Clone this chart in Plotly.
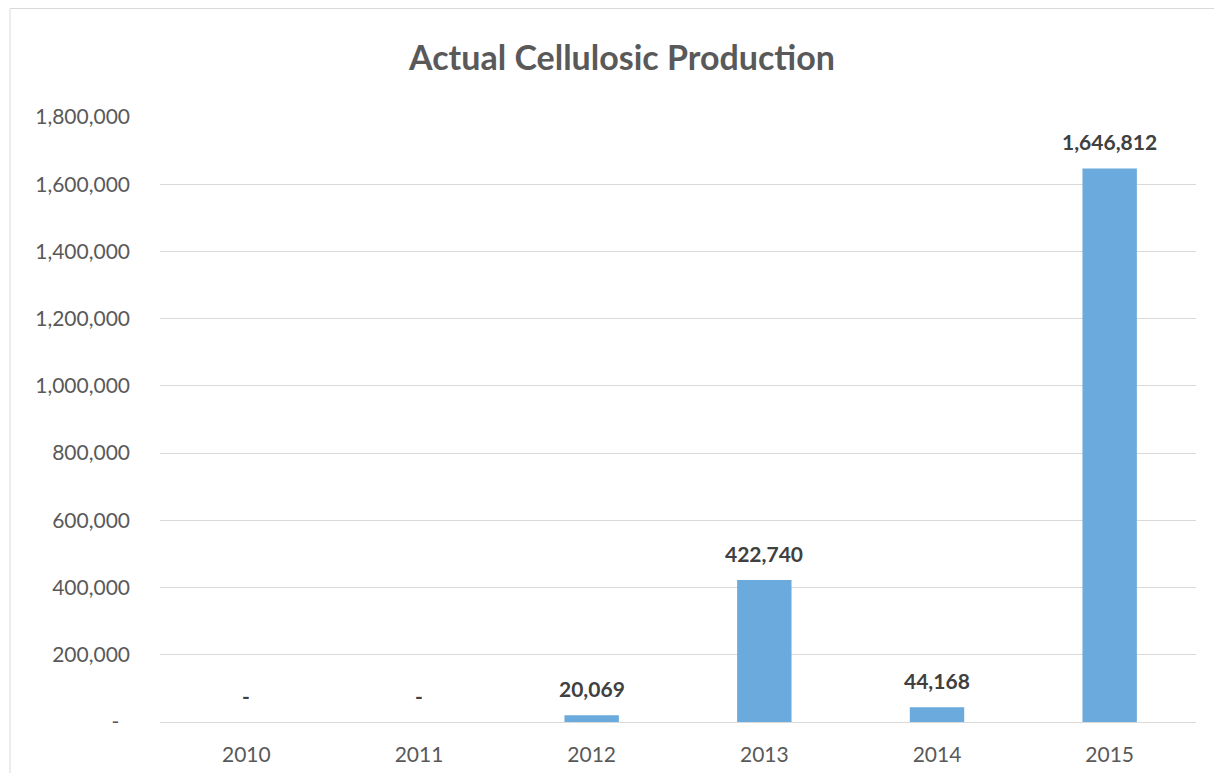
import plotly.graph_objects as go

years = ["2010", "2011", "2012", "2013", "2014", "2015"]
production = [0, 0, 20069, 422740, 44168, 1646812]
y_tickvals = [0, 200000, 400000, 600000, 800000, 1000000, 1200000, 1400000, 1600000, 1800000]
y_ticktext = ["-\u00a0\u00a0", "200,000", "400,000", "600,000", "800,000", "1,000,000",
              "1,200,000", "1,400,000", "1,600,000", "1,800,000"]

def fmt(v):
    return "-" if v == 0 else f"{v:,}"

# page body has an 8px margin; compensate so the drawing lands where the reference is
OFF = 8
W, H = 1222 - 2 * OFF, 781 - 2 * OFF
L, T = 160 - OFF, 117 - OFF
R = W - (1196 - OFF)
B = H - (722 - OFF)

fig = go.Figure()
fig.add_trace(go.Bar(
    x=years, y=production,
    marker=dict(color="#6AAADC", line=dict(width=0)),
    width=0.315,
    hoverinfo="skip",
))

for i, v in enumerate(production):
    fig.add_annotation(
        x=i, y=v, xref="x", yref="y",
        text="<b>" + fmt(v) + "</b>",
        showarrow=False, yanchor="bottom", yshift=12,
        font=dict(family="Lato", size=21, color="#404040"),
    )

pw = W - L - R
ph = H - T - B
fig.add_shape(
    type="rect", xref="paper", yref="paper",
    x0=(10 - OFF - L) / pw, x1=(1240 - L) / pw,
    y0=-(820 - (H - B)) / ph, y1=((H - B) - 0.5) / ph,
    line=dict(color="#D9D9D9", width=1), fillcolor="rgba(0,0,0,0)", layer="below",
)

fig.update_layout(
    width=W, height=H,
    margin=dict(l=L, r=R, t=T, b=B, autoexpand=False),
    paper_bgcolor="white", plot_bgcolor="white",
    showlegend=False,
    title=dict(
        text="<b>Actual Cellulosic Production</b>",
        x=(622 - OFF) / W, xanchor="center", y=1 - (58 - OFF) / H, yanchor="middle",
        font=dict(family="Lato", size=34, color="#595959"),
    ),
    xaxis=dict(
        type="category", range=[-0.5, 5.5],
        showgrid=False, showline=True, linecolor="#D9D9D9", linewidth=1.3,
        ticks="", ticklabelstandoff=14,
        tickfont=dict(family="Lato", size=21, color="#595959"),
        fixedrange=True,
    ),
    yaxis=dict(
        range=[0, 1800000],
        tickvals=y_tickvals, ticktext=y_ticktext,
        showgrid=True, gridcolor="#D9D9D9", gridwidth=1.3,
        zeroline=False, showline=False,
        ticks="", ticklabelstandoff=29,
        tickfont=dict(family="Lato", size=21, color="#595959"),
        fixedrange=True,
    ),
)

fig.write_html("out.html")
